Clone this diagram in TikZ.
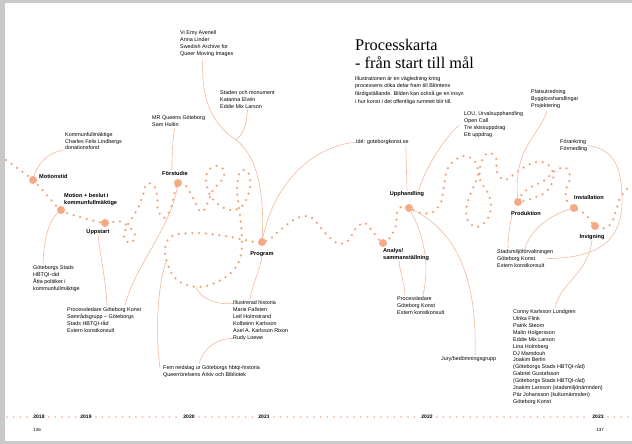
\documentclass[tikz,border=0pt]{standalone}
\usepackage{fontspec}
\setmainfont{Liberation Sans}
\newfontfamily\titlefont{Liberation Serif}
\usepackage{tikz}
\usepackage{xcolor}
\usetikzlibrary{backgrounds}

\definecolor{dotorange}{HTML}{F2A27A}
\definecolor{stopfill}{HTML}{F5AA86}
\definecolor{linkorange}{HTML}{F0B89E}
\definecolor{tlpink}{HTML}{F4BBA2}
\definecolor{pagegrey}{HTML}{C9C9C9}

\tikzset{
  stop/.style={circle, fill=stopfill, minimum size=8pt, inner sep=0pt},
  stoplabel/.style={font=\bfseries\fontsize{5.6}{7}\selectfont, align=left, inner sep=0pt},
  note/.style={font=\fontsize{5.4}{6.9}\selectfont, align=left, inner sep=0pt, anchor=north west},
  route/.style={draw=dotorange, line width=2.5pt, line cap=round, dash pattern=on 0pt off 6.8pt},
  link/.style={draw=linkorange, line width=0.6pt},
  year/.style={font=\bfseries\fontsize{5}{6}\selectfont, inner sep=4pt},
  tl/.style={draw=tlpink, line width=2pt, line cap=round, dash pattern=on 0pt off 6.7pt},
}

\begin{document}
\begin{tikzpicture}[x=1pt, y=-1pt]
            \useasboundingbox (0,0) rectangle (632,444);
            \node[anchor=north west, inner sep=0pt, align=left, font=\titlefont\fontsize{16.3}{18}\selectfont] (title) at (355,39) {Processkarta\\- från start till mål};
            \node[note, font=\fontsize{5.4}{7.8}\selectfont] (intro) at (355,76) {Illustrationen är en vägledning kring\\processens olika delar fram till Blöntens\\färdigställande. Bilden kan också ge en insyn\\i hur konst i det offentliga rummet blir till.};

            \node[stop] (motion) at (33,180) {};
            \node[stop] (beslut) at (61,210) {};
            \node[stop] (uppstart) at (105,223) {};
            \node[stop] (forstudie) at (178,183) {};
            \node[stop] (program) at (262,242) {};
            \node[stop] (analys) at (383,243) {};
            \node[stop] (upphandling) at (409,208) {};
            \node[stop] (produktion) at (518,202) {};
            \node[stop] (installation) at (574,208) {};
            \node[stop] (invigning) at (595,226) {};

            \node[stoplabel, anchor=west] (lmotion) at (39,176) {Motionstid};
            \node[stoplabel, anchor=north west] (lbeslut) at (64,193.5) {Motion + beslut i\\kommunfullmäktige};
            \node[stoplabel] (luppstart) at (98,232) {Uppstart};
            \node[stoplabel] (lforstudie) at (175,173) {Förstudie};
            \node[stoplabel] (lprogram) at (262,254) {Program};
            \node[stoplabel, anchor=north west] (lanalys) at (383,248) {Analys/\\sammanställning};
            \node[stoplabel] (lupphandling) at (407,194) {Upphandling};
            \node[stoplabel] (lproduktion) at (526,213) {Produktion};
            \node[stoplabel] (linstallation) at (589,197) {Installation};
            \node[stoplabel] (linvigning) at (592,237) {Invigning};

            \node[note] (kf) at (65,132) {Kommunfullmäktige\\Charles Felix Lindbergs\\donationsfond};
            \node[note] (arkiv) at (180,30.5) {Vi Emy Avenell\\Anna Linder\\Swedish Archive for\\Queer Moving Images};
            \node[note] (staden) at (220,90.5) {Staden och monument\\Katarina Elvén\\Eddie Mix Larson};
            \node[note] (mrq) at (152,115.5) {MR Queens Göteborg\\Sam Hultin};
            \node[note] (radet) at (33,265.5) {Göteborgs Stads\\HBTQI-råd\\Åtta politiker i\\kommunfullmäktige};
            \node[note] (ledning) at (67,307.5) {Processledare Göteborg Konst\\Samrådsgrupp -- Göteborgs\\Stads HBTQI-råd\\Extern konstkonsult};
            \node[note] (nedslag) at (163,365.5) {Fem nedslag ur Göteborgs hbtqi-historia\\Queerrörelsens Arkiv och Bibliotek};
            \node[note] (historia) at (233,300.5) {Illustrerad historia\\Marie Fallsten\\Leif Holmstrand\\Kolbeinn Karlsson\\Axel A. Karlsson Rixon\\Rudy Loewe};
            \node[note] (ide) at (356,139.5) {Idé: goteborgkonst.se};
            \node[note] (lou) at (464,111.5) {LOU, Urvalsupphandling\\Open Call\\Tre skissuppdrag\\Ett uppdrag};
            \node[note] (plats) at (531,89.5) {Platsutredning\\Bygglovshandlingar\\Projektering};
            \node[note] (forankring) at (560,139.5) {Förankring\\Förmedling};
            \node[note] (stadsmiljo) at (497,249.5) {Stadsmiljöförvaltningen\\Göteborg Konst\\Extern konstkonsult};
            \node[note] (ledning2) at (397,296.5) {Processledare\\Göteborg Konst\\Extern konstkonsult};
            \node[note] (jury) at (441,356.5) {Jury/bedömningsgrupp};
            \node[note] (jurylist) at (513,309.5) {Conny Karlsson Lundgren\\Ulrika Flink\\Patrik Steorn\\Malin Holgersson\\Eddie Mix Larson\\Lina Holmberg\\DJ Mamdouh\\Joakim Berlin\\(Göteborgs Stads HBTQI-råd)\\Gabriel Gustafsson\\(Göteborgs Stads HBTQI-råd)\\Joakim Larsson (stadsmiljönämnden)\\Pär Johansson (kulturnämnden)\\Göteborg Konst};

            \coordinate (loopw) at (166,262);
            \coordinate (loops) at (196,287);
            \coordinate (join) at (236,140);
            \coordinate (rim) at (622,195);

            \begin{pgfonlayer}{background}
            \fill[pagegrey] (0,0) rectangle (632,3);
            \fill[pagegrey] (0,0) rectangle (5,444);
            \fill[pagegrey] (0,441) rectangle (632,444);
            \draw[route] plot[smooth, tension=0.6] coordinates {(6,160) (20,170) (motion) (47,195) (beslut) (80,217) (uppstart)
              (118,221) (128,226) (135,235) (131,243) (124,238) (127,226) (137,210) (143,195) (146,185) (153,184) (157,195) (158,210) (164,218) (171,208) (174,195) (forstudie)
              (186,186) (193,198) (201,212) (207,204) (213,190) (222,180) (224,170) (214,166) (206,176) (210,195) (222,207) (234,210) (244,204) (250,187) (248,172) (240,172) (237,190) (240,215) (242,240) (240,258) (232,272) (215,283) (196,287) (177,280) (168,265) (165,248) (172,236) (195,233) (225,236) (program)
              (280,230) (292,221) (303,216) (312,218) (320,227) (330,238) (340,244) (349,240) (356,228) (365,223) (373,232) (analys)
              (391,236) (396,225) (397,213) (401,207) (upphandling)
              (420,213) (433,212) (441,202) (444,185) (447,170) (455,160) (466,156) (476,163) (478,176) (472,190) (467,205) (467,219) (476,227) (487,220) (491,205) (487,191) (480,180) (481,163) (488,153) (496,158) (497,172) (505,180) (517,172) (530,164) (542,162) (551,168) (553,180) (546,192) (533,198) (produktion)
              (524,192) (533,186) (545,180) (556,170) (566,168) (570,178) (566,190) (567,201) (installation) (585,214) (invigning) (605,228) (612,222) (616,210) (620,198) (626,190) (631,185)};
            \end{pgfonlayer}

            \draw[link] ([xshift=-2pt]kf.south west) .. controls (50,152) and (38,162) .. (motion);
            \draw[link] ([xshift=-4pt,yshift=-3pt]arkiv.south) .. controls (201,100) and (212,124) .. (join) .. controls (254,153) and (265,185) .. (program);
            \draw[link] (staden.south) .. controls (247,125) and (243,134) .. (join);
            \draw[link] ([xshift=-4pt,yshift=-2pt]mrq.south) .. controls (172,145) and (172,158) .. ([xshift=-3pt]lforstudie.north);
            \draw[link] ([xshift=10pt,yshift=2pt]radet.north west) .. controls (44,235) and (50,220) .. (beslut);
            \draw[link] ([xshift=40pt,yshift=2pt]ledning.north west) .. controls (106,280) and (100,255) .. (luppstart.south);
            \draw[link] ([xshift=58pt,yshift=2pt]ledning.north west) .. controls (135,265) and (170,230) .. (forstudie);
            \draw[link] ([xshift=-3pt,yshift=-3pt]nedslag.north west) .. controls (155,330) and (158,285) .. (loopw);
            \draw[link] (loops) .. controls (200,298) and (215,305) .. ([yshift=-3pt]historia.north west);
            \draw[link] ([xshift=36pt,yshift=2pt]nedslag.north west) .. controls (205,345) and (220,338) .. ([yshift=2pt]historia.south west);
            \draw[link] (lprogram.south) .. controls (260,270) and (252,285) .. ([xshift=17pt,yshift=1pt]historia.north west);
            \draw[link] (ide.west) .. controls (320,145) and (276,175) .. (program);
            \draw[link] ([xshift=-3pt]ide.south east) -- (lupphandling.north);
            \draw[link] ([xshift=-5pt,yshift=-14pt]lou.north west) .. controls (442,140) and (425,170) .. ([xshift=-6pt]lupphandling.north east);
            \draw[link] ([xshift=16pt,yshift=-2pt]plats.south west) .. controls (540,135) and (513,148) .. (produktion);
            \draw[link] (forankring.east) .. controls (612,148) and (621,165) .. (rim) .. controls (624,240) and (600,258) .. ([xshift=-6pt]stadsmiljo.east);
            \draw[link] ([xshift=11pt,yshift=1pt]stadsmiljo.north west) .. controls (508,235) and (510,225) .. ([xshift=-14pt]lproduktion.south);
            \draw[link] ([xshift=28pt,yshift=1pt]stadsmiljo.north west) .. controls (530,230) and (550,215) .. (installation);
            \draw[link] ([xshift=8pt,yshift=1pt]ledning2.north west) .. controls (405,283) and (400,275) .. ([xshift=-7pt]lanalys.south);
            \draw[link] ([xshift=26pt,yshift=1pt]ledning2.north west) .. controls (432,255) and (418,225) .. (upphandling);
            \draw[link] ([xshift=34pt,yshift=1pt]jury.north west) .. controls (477,295) and (465,235) .. (upphandling);
            \draw[link] (linvigning.south) .. controls (588,275) and (560,282) .. ([xshift=42pt,yshift=1pt]jurylist.north west);

            \node[year] (y2018) at (39,417) {2018};
            \node[year] (y2019) at (86,417) {2019};
            \node[year] (y2020) at (189,417) {2020};
            \node[year] (y2021) at (264,417) {2021};
            \node[year] (y2022) at (427,417) {2022};
            \node[year] (y2023) at (598,417) {2023};
            \coordinate (tlstart) at (7,417);
            \coordinate (tlend) at (631,417);
            \draw[tl] (tlstart) -- (y2018) -- (y2019) -- (y2020) -- (y2021) -- (y2022) -- (y2023) -- (tlend);
            \node[font=\fontsize{4.5}{5}\selectfont, inner sep=0pt] (p136) at (37,430) {136};
            \node[font=\fontsize{4.5}{5}\selectfont, inner sep=0pt] (p137) at (600,430) {137};
        \end{tikzpicture}
\end{document}
